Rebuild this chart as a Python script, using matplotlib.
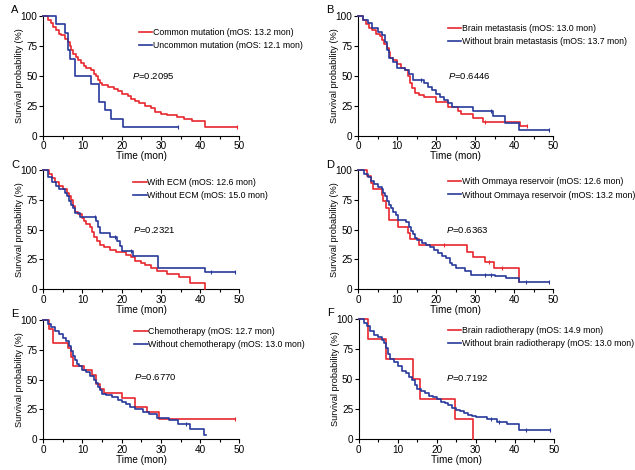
import numpy as np
import matplotlib
matplotlib.use("Agg")
import matplotlib.pyplot as plt
from matplotlib.ticker import MultipleLocator

plt.rcParams['font.family'] = ['Liberation Sans', 'DejaVu Sans']
plt.rcParams['mathtext.fontset'] = 'custom'
plt.rcParams['mathtext.it'] = 'Liberation Sans:italic'
plt.rcParams['mathtext.rm'] = 'Liberation Sans'

RED = '#e8282d'
BLUE = '#27399a'

# ------------------------
# DATA (step times, survival %)
# ------------------------

# A: mutation type
a_red_t = [0, 1.3, 2.0, 2.6, 3.3, 4.0, 4.5, 5.6, 6.3, 6.8, 7.2, 7.6, 8.3, 9.0, 9.7, 10.3, 11.0, 12.3, 12.9,
           13.5, 14.0, 14.6, 15.0, 16.5, 18.0, 19.0, 20.0, 21.5, 22.5, 23.5, 24.5, 26.0, 27.5, 28.5, 30.0,
           31.5, 34.0, 36.0, 38.0, 41.2, 49.3]
a_red_s = [100, 97, 94, 91, 88, 85, 84, 81, 78, 75, 72, 68, 66, 63, 61, 58, 57, 55, 52,
           50, 47, 44, 42, 41, 39, 37, 35, 33, 31, 29, 27, 25, 23, 20, 18,
           17, 16, 14, 12, 7, 7]
a_blue_t = [0, 3.2, 5.6, 6.2, 6.8, 8.0, 12.3, 14.3, 15.7, 17.4, 20.3, 34.3]
a_blue_s = [100, 92.9, 85.7, 71.4, 64.3, 50, 42.9, 28.6, 21.4, 14.3, 7.1, 7.1]
a_red_cens = [49.3]
a_blue_cens = [34.3]

# B: brain metastasis
b_red_t = [0, 1.3, 2.0, 2.8, 3.5, 4.5, 5.5, 6.0, 6.7, 7.3, 7.8, 8.2, 9.0, 10.0, 11.0, 12.0, 12.7, 13.2,
           13.8, 14.5, 15.5, 17.0, 20.0, 23.0, 25.5, 26.5, 29.5, 32.0, 41.5, 43.2]
b_red_s = [100, 97, 93, 90, 88, 85, 83, 80, 77, 73, 70, 65, 63, 60, 57, 55, 50, 44,
           40, 36, 34, 32, 28, 24, 21, 18, 15, 11.5, 8, 8]
b_blue_t = [0, 1.3, 2.5, 3.5, 5.0, 6.0, 6.8, 7.5, 8.0, 9.0, 10.0, 12.0, 13.0, 14.0, 17.0, 18.0, 19.0,
            20.0, 21.0, 22.0, 23.0, 24.0, 29.5, 34.5, 37.6, 41.2, 49.0]
b_blue_s = [100, 97, 94, 90, 87, 84, 78, 72, 65, 62, 57, 55, 52, 47, 44, 41, 38,
            35, 32, 30, 27, 24, 21, 16.5, 11, 5, 5]
b_red_cens = [32.5, 43.2]
b_blue_cens = [16.0, 34.0, 49.0]

# C: ECM
c_red_t = [0, 1.5, 2.2, 3.0, 4.0, 5.0, 6.0, 6.7, 7.2, 7.6, 8.0, 9.0, 10.0, 10.5, 11.0, 12.0, 12.5, 13.0,
           13.7, 14.5, 15.5, 17.0, 18.5, 21.0, 22.5, 23.5, 25.0, 26.0, 27.5, 29.0, 31.5, 34.5, 37.5, 41.2]
c_red_s = [100, 97, 93, 90, 87, 84, 81, 78, 75, 70, 65, 63, 60, 57, 55, 52, 48, 44,
           40, 37, 35, 33, 31, 29, 27, 24, 22, 20, 18, 15, 13, 10, 5, 0]
c_blue_t = [0, 1.3, 2.3, 3.3, 4.0, 5.5, 6.0, 6.5, 7.0, 7.5, 8.0, 9.3, 13.5, 14.0, 14.5, 17.0, 18.8,
            19.5, 20.0, 23.0, 29.2, 41.2, 49.0]
c_blue_s = [100, 94, 90, 87, 84, 81, 78, 74, 71, 68, 64, 61, 57, 52, 47, 44, 40,
            36, 32, 27.5, 18, 14, 14]
c_red_cens = []
c_blue_cens = [13.3, 18.3, 22.5, 42.8, 49.0]

# D: Ommaya reservoir
d_red_t = [0, 2.3, 3.2, 3.8, 6.0, 6.5, 7.2, 8.0, 10.2, 12.7, 13.3, 15.5, 28.0, 29.5, 32.5, 34.8, 41.2]
d_red_s = [100, 94.7, 89.5, 84.2, 78.9, 73.7, 68.4, 57.9, 52.6, 47.4, 42.1, 36.8, 31.5, 27, 23, 17.5, 6]
d_blue_t = [0, 1.5, 2.5, 3.3, 4.0, 5.0, 6.0, 6.5, 7.0, 7.5, 8.0, 8.5, 9.0, 9.7, 10.3, 12.3, 13.0,
            13.5, 14.0, 14.5, 15.0, 16.5, 17.5, 18.5, 19.5, 20.5, 21.5, 22.5, 23.5, 24.0, 25.0, 27.5,
            29.0, 35.0, 38.0, 41.2, 49.0]
d_blue_s = [100, 97, 94, 91, 88, 86, 84, 81, 78, 74, 71, 68, 65, 62, 58, 56, 52,
            49, 46, 43, 41, 39, 37, 35, 33, 30, 28, 26, 22, 20, 18, 15,
            12, 11, 9, 6, 6]
d_red_cens = [22.0, 33.5, 37.0]
d_blue_cens = [32.5, 34.0, 43.0, 49.0]

# E: chemotherapy
e_red_t = [0, 1.5, 2.4, 6.3, 7.0, 7.5, 10.5, 12.5, 13.5, 14.5, 15.5, 20.0, 23.5, 26.5, 29.5, 49.0]
e_red_s = [100, 92.3, 80.8, 76.9, 69.2, 61.5, 57.7, 53.8, 46.2, 42.3, 38.5, 34.6, 26.9, 23, 16.5, 16.5]
e_blue_t = [0, 1.3, 2.0, 3.0, 4.0, 5.0, 5.8, 6.5, 7.0, 7.5, 8.0, 8.5, 9.2, 10.0, 11.0, 12.0, 13.0,
            13.5, 14.0, 14.5, 15.0, 16.0, 17.5, 19.0, 20.0, 21.0, 22.0, 23.5, 25.5, 27.0, 29.0, 32.0,
            34.3, 37.5, 41.1, 41.6]
e_blue_s = [100, 97, 94, 91, 88, 85, 82, 78, 74, 70, 66, 63, 61, 58, 56, 53, 50,
            47, 44, 41, 38, 37, 35, 33, 31, 29, 27, 25, 23, 21, 18, 16,
            12.5, 8.5, 3.5, 3.5]
e_red_cens = [49.0]
e_blue_cens = [36.5]

# F: brain radiotherapy
f_red_t = [0, 2.4, 7.0, 13.8, 15.8, 24.8, 29.4]
f_red_s = [100, 83.3, 66.7, 50, 33.3, 16.7, 0]
f_blue_t = [0, 1.3, 2.2, 3.0, 4.0, 5.0, 6.0, 6.5, 7.0, 7.5, 8.0, 9.0, 10.0, 11.0, 12.0, 13.0, 13.7,
            14.3, 15.0, 16.0, 17.0, 18.0, 19.0, 20.0, 21.0, 22.0, 23.0, 24.0, 25.0, 26.0, 27.0, 28.0,
            29.0, 30.0, 33.0, 35.5, 38.0, 41.2, 49.0]
f_blue_s = [100, 97, 94, 90, 87, 85, 83, 80, 76, 71, 67, 64, 61, 57, 55, 52, 49,
            45, 42, 40, 38, 36, 35, 33, 31, 30, 28, 26, 24, 23, 22, 20,
            19, 18, 17, 14.5, 12.5, 7.5, 7.5]
f_red_cens = []
f_blue_cens = [34.0, 36.0, 43.0, 49.0]

labels = {
    'A': ('Common mutation (mOS: 13.2 mon)', 'Uncommon mutation (mOS: 12.1 mon)', '0.2095'),
    'B': ('Brain metastasis (mOS: 13.0 mon)', 'Without brain metastasis (mOS: 13.7 mon)', '0.6446'),
    'C': ('With ECM (mOS: 12.6 mon)', 'Without ECM (mOS: 15.0 mon)', '0.2321'),
    'D': ('With Ommaya reservoir (mOS: 12.6 mon)', 'Without Ommaya reservoir (mOS: 13.2 mon)', '0.6363'),
    'E': ('Chemotherapy (mOS: 12.7 mon)', 'Without chemotherapy (mOS: 13.0 mon)', '0.6770'),
    'F': ('Brain radiotherapy (mOS: 14.9 mon)', 'Without brain radiotherapy (mOS: 13.0 mon)', '0.7192'),
}

panels = {
    'A': (a_red_t, a_red_s, a_blue_t, a_blue_s, a_red_cens, a_blue_cens),
    'B': (b_red_t, b_red_s, b_blue_t, b_blue_s, b_red_cens, b_blue_cens),
    'C': (c_red_t, c_red_s, c_blue_t, c_blue_s, c_red_cens, c_blue_cens),
    'D': (d_red_t, d_red_s, d_blue_t, d_blue_s, d_red_cens, d_blue_cens),
    'E': (e_red_t, e_red_s, e_blue_t, e_blue_s, e_red_cens, e_blue_cens),
    'F': (f_red_t, f_red_s, f_blue_t, f_blue_s, f_red_cens, f_blue_cens),
}

# axes rectangles [left, bottom, width, height] in figure fraction
rects = {
    'A': [0.068, 0.711, 0.309, 0.255],
    'B': [0.564, 0.711, 0.307, 0.255],
    'C': [0.068, 0.385, 0.309, 0.253],
    'D': [0.564, 0.385, 0.307, 0.253],
    'E': [0.068, 0.066, 0.309, 0.253],
    'F': [0.565, 0.066, 0.307, 0.255],
}
legend_pos = {'A': (0.49, 0.9), 'B': (0.46, 0.933), 'C': (0.46, 0.933),
              'D': (0.46, 0.941), 'E': (0.465, 0.941), 'F': (0.457, 0.942)}
p_pos = {'A': (0.454, 0.5), 'B': (0.46, 0.5), 'C': (0.46, 0.5),
         'D': (0.45, 0.5), 'E': (0.465, 0.52), 'F': (0.446, 0.51)}


def surv_at(t, s, x):
    idx = np.searchsorted(t, x, side='right') - 1
    return np.array(s)[idx]


fig = plt.figure(figsize=(6.35, 4.70), dpi=100)

for key, (rt, rs, bt, bs, rc, bc) in panels.items():
    ax = fig.add_axes(rects[key])
    ax.step(rt, rs, where='post', color=RED, lw=1.2, clip_on=False, zorder=3,
            label=labels[key][0])
    ax.step(bt, bs, where='post', color=BLUE, lw=1.2, clip_on=False, zorder=3,
            label=labels[key][1])
    if rc:
        ax.plot(rc, surv_at(rt, rs, rc), ls='none', marker='|', ms=3, mew=0.8,
                color=RED, clip_on=False, zorder=4)
    if bc:
        ax.plot(bc, surv_at(bt, bs, bc), ls='none', marker='|', ms=3, mew=0.8,
                color=BLUE, clip_on=False, zorder=4)

    ax.set_xlim(0, 50)
    ax.set_ylim(0, 100)
    ax.xaxis.set_major_locator(MultipleLocator(10))
    ax.xaxis.set_minor_locator(MultipleLocator(5))
    ax.yaxis.set_major_locator(MultipleLocator(25))
    for side in ('top', 'right'):
        ax.spines[side].set_visible(False)
    for side in ('left', 'bottom'):
        ax.spines[side].set_linewidth(0.8)
    ax.tick_params(which='major', length=3, width=0.8, labelsize=7.2, pad=1)
    ax.tick_params(which='minor', length=2, width=0.8)
    ax.set_xlabel('Time (mon)', fontsize=7.2, labelpad=0)
    ax.set_ylabel('Survival probability (%)', fontsize=6.6)
    ax.yaxis.set_label_coords(-0.097, 0.5)

    ax.legend(loc='upper left', bbox_to_anchor=legend_pos[key], frameon=False,
              fontsize=6.3, handlelength=1.5, handletextpad=0.1, labelspacing=0.5,
              borderpad=0, borderaxespad=0)
    ax.text(p_pos[key][0], p_pos[key][1], '$P$=' + labels[key][2], transform=ax.transAxes,
            fontsize=6.8, va='center', ha='left')

    fig.text(rects[key][0] - 0.05, rects[key][1] + rects[key][3] + 0.012, key,
             fontsize=8, va='center', ha='left')

fig.savefig('out.png', dpi=100)
